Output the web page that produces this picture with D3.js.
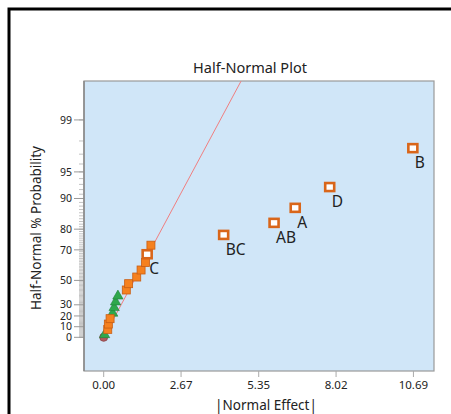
<!DOCTYPE html>
<html>
<head>
<meta charset="utf-8">
<script src="https://cdn.jsdelivr.net/npm/d3@7"></script>
<style>
    body { margin: 0; background: #fff; }
    text { font-family: "Noto Sans", "Open Sans", sans-serif; fill: #222; }
</style>
</head>
<body>
<script>
(function(){

    //effects sorted from smallest to largest
    var effects = [0.03, 0.14, 0.16, 0.22, 0.31, 0.36, 0.41, 0.49, 0.78, 0.86,
                   1.14, 1.29, 1.44, 1.50, 1.63, 4.14, 5.88, 6.61, 7.80, 10.67];
    //half-normal % probability of each effect
    var probs = [2.5, 7.5, 12.5, 17.5, 22.5, 27.5, 32.5, 37.5, 42.5, 47.5,
                 52.5, 57.5, 62.5, 67.5, 72.5, 77.5, 82.5, 87.5, 92.5, 97.5];
    //marker kind: tri = error, sq = term, open = selected term
    var kinds = ["tri", "sq", "sq", "sq", "tri", "tri", "tri", "tri", "sq", "sq",
                 "sq", "sq", "sq", "open", "sq", "open", "open", "open", "open", "open"];
    var labels = ["", "", "", "", "", "", "", "", "", "",
                  "", "", "", "C", "", "BC", "AB", "A", "D", "B"];

    //point hidden under the first triangle
    var originEffect = [0],
        originProb = [0];

    //reference line ends
    var lineEffect = [0, 4.74],
        lineProb = [0, 99.76];

    //axis ticks
    var xTicks = [0.00, 2.67, 5.35, 8.02, 10.69];
    var yMajor = [0, 10, 20, 30, 50, 70, 80, 90, 95, 99];
    var yMinor = d3.range(0, 100, 1);

    //inverse normal cdf (Acklam)
    function qnorm(p){
        var a = [-39.69683028665376, 220.9460984245205, -275.9285104469687, 138.3577518672690, -30.66479806614716, 2.506628277459239],
            b = [-54.47609879822406, 161.5858368580409, -155.6989798598866, 66.80131188771972, -13.28068155288572],
            c = [-0.007784894002430293, -0.3223964580411365, -2.400758277161838, -2.549732539343734, 4.374664141464968, 2.938163982698783],
            d = [0.007784695709041462, 0.3224671290700398, 2.445134137142996, 3.754408661907416];
        var q, r;
        if (p < 0.02425){
            q = Math.sqrt(-2 * Math.log(p));
            return (((((c[0]*q+c[1])*q+c[2])*q+c[3])*q+c[4])*q+c[5]) / ((((d[0]*q+d[1])*q+d[2])*q+d[3])*q+1);
        } else if (p > 1 - 0.02425){
            q = Math.sqrt(-2 * Math.log(1 - p));
            return -(((((c[0]*q+c[1])*q+c[2])*q+c[3])*q+c[4])*q+c[5]) / ((((d[0]*q+d[1])*q+d[2])*q+d[3])*q+1);
        }
        q = p - 0.5;
        r = q * q;
        return (((((a[0]*r+a[1])*r+a[2])*r+a[3])*r+a[4])*r+a[5])*q / (((((b[0]*r+b[1])*r+b[2])*r+b[3])*r+b[4])*r+1);
    }
    //half-normal score for a % probability
    function halfZ(pct){
        return pct <= 0 ? 0 : qnorm(0.5 + pct / 200);
    }

    var width = 451,
        height = 414,
        left = 84, right = 434, top = 81, bottom = 371;

    var svg = d3.select("body")
        .append("svg")
        .attr("width", width)
        .attr("height", height);

    //outer black frame
    svg.append("rect")
        .attr("x", 9).attr("y", 9)
        .attr("width", 600).attr("height", 600)
        .attr("fill", "none")
        .attr("stroke", "#000")
        .attr("stroke-width", 3);

    var x = d3.scaleLinear()
        .domain([-0.68, 11.40])
        .range([left, right]);

    var zScale = d3.scaleLinear()
        .domain([-0.399, 3.037])
        .range([bottom, top]);
    function y(pct){ return zScale(halfZ(pct)); }

    //plot background
    svg.append("rect")
        .attr("x", left).attr("y", top)
        .attr("width", right - left).attr("height", bottom - top)
        .attr("fill", "#d0e6f8")
        .attr("stroke", "#9a9a9a")
        .attr("stroke-width", 1.2);

    svg.append("clipPath").attr("id", "clip")
        .append("rect")
        .attr("x", left).attr("y", top)
        .attr("width", right - left).attr("height", bottom - top);

    //title
    svg.append("text")
        .attr("x", 250).attr("y", 73)
        .attr("text-anchor", "middle")
        .style("font-size", "14.5px")
        .text("Half-Normal Plot");

    //x axis ticks and labels
    svg.selectAll(".xtick")
        .data(xTicks)
        .enter()
        .append("line")
        .attr("class", "xtick")
        .attr("x1", function(d){ return x(d); })
        .attr("x2", function(d){ return x(d); })
        .attr("y1", bottom)
        .attr("y2", bottom + 6)
        .attr("stroke", "#aaa");

    svg.selectAll(".xlabel")
        .data(xTicks)
        .enter()
        .append("text")
        .attr("class", "xlabel")
        .attr("x", function(d){ return x(d); })
        .attr("y", 389)
        .attr("text-anchor", "middle")
        .style("font-size", "11.5px")
        .text(function(d){ return d3.format(".2f")(d); });

    svg.append("text")
        .attr("x", 266).attr("y", 410)
        .attr("text-anchor", "middle")
        .style("font-size", "13.5px")
        .text("|Normal Effect|");

    //y axis minor and major ticks
    svg.selectAll(".yminor")
        .data(yMinor)
        .enter()
        .append("line")
        .attr("class", "yminor")
        .attr("x1", left - 5).attr("x2", left)
        .attr("y1", function(d){ return y(d); })
        .attr("y2", function(d){ return y(d); })
        .attr("stroke", "#b4b4b4")
        .attr("stroke-width", 0.8);

    svg.selectAll(".ymajor")
        .data(yMajor)
        .enter()
        .append("line")
        .attr("class", "ymajor")
        .attr("x1", left - 10).attr("x2", left)
        .attr("y1", function(d){ return y(d); })
        .attr("y2", function(d){ return y(d); })
        .attr("stroke", "#999");

    svg.selectAll(".ylabel")
        .data(yMajor)
        .enter()
        .append("text")
        .attr("class", "ylabel")
        .attr("x", 72)
        .attr("y", function(d){ return y(d); })
        .attr("dy", "0.35em")
        .attr("text-anchor", "end")
        .style("font-size", "10.5px")
        .text(function(d){ return d; });

    //left axis line
    svg.append("line")
        .attr("x1", left).attr("x2", left)
        .attr("y1", top).attr("y2", bottom)
        .attr("stroke", "#888")
        .attr("stroke-width", 1.5);

    svg.append("text")
        .attr("transform", "translate(41,228) rotate(-90)")
        .attr("text-anchor", "middle")
        .style("font-size", "13.5px")
        .text("Half-Normal % Probability");

    //reference line
    var lineData = lineEffect.map(function(e, i){ return [e, lineProb[i]]; });
    svg.append("path")
        .datum(lineData)
        .attr("clip-path", "url(#clip)")
        .attr("d", d3.line()
            .x(function(d){ return x(d[0]); })
            .y(function(d){ return y(d[1]); }))
        .attr("fill", "none")
        .attr("stroke", "#f07f80")
        .attr("stroke-width", 1);

    //origin circle
    svg.selectAll(".origin")
        .data(originEffect)
        .enter()
        .append("circle")
        .attr("class", "origin")
        .attr("cx", function(d){ return x(d); })
        .attr("cy", function(d, i){ return y(originProb[i]); })
        .attr("r", 4)
        .attr("fill", "#b05a5e")
        .attr("stroke", "#8a4448")
        .attr("stroke-width", 0.8);

    var points = effects.map(function(e, i){
        return {effect: e, prob: probs[i], kind: kinds[i], label: labels[i]};
    });

    //error triangles
    svg.selectAll(".tri")
        .data(points.filter(function(d){ return d.kind == "tri"; }))
        .enter()
        .append("path")
        .attr("class", "tri")
        .attr("transform", function(d){ return "translate(" + x(d.effect) + "," + y(d.prob) + ")"; })
        .attr("d", d3.symbol().type(d3.symbolTriangle).size(46))
        .attr("fill", "#2ea84c")
        .attr("stroke", "#1f8038")
        .attr("stroke-width", 0.6);

    //filled squares
    svg.selectAll(".sq")
        .data(points.filter(function(d){ return d.kind == "sq"; }))
        .enter()
        .append("rect")
        .attr("class", "sq")
        .attr("x", function(d){ return x(d.effect) - 4; })
        .attr("y", function(d){ return y(d.prob) - 4; })
        .attr("width", 8).attr("height", 8)
        .attr("fill", "#f5811f")
        .attr("stroke", "#c85e14")
        .attr("stroke-width", 0.8);

    //open squares for selected terms
    svg.selectAll(".open")
        .data(points.filter(function(d){ return d.kind == "open"; }))
        .enter()
        .append("rect")
        .attr("class", "open")
        .attr("x", function(d){ return x(d.effect) - 4.5; })
        .attr("y", function(d){ return y(d.prob) - 4; })
        .attr("width", 9).attr("height", 8)
        .attr("fill", "#fff")
        .attr("stroke", "#d9661a")
        .attr("stroke-width", 2.6);

    svg.selectAll(".plabel")
        .data(points.filter(function(d){ return d.label != ""; }))
        .enter()
        .append("text")
        .attr("class", "plabel")
        .attr("x", function(d){ return x(d.effect) + 2; })
        .attr("y", function(d){ return y(d.prob) + 20; })
        .style("font-size", "15.5px")
        .text(function(d){ return d.label; });

})();
</script>
</body>
</html>
